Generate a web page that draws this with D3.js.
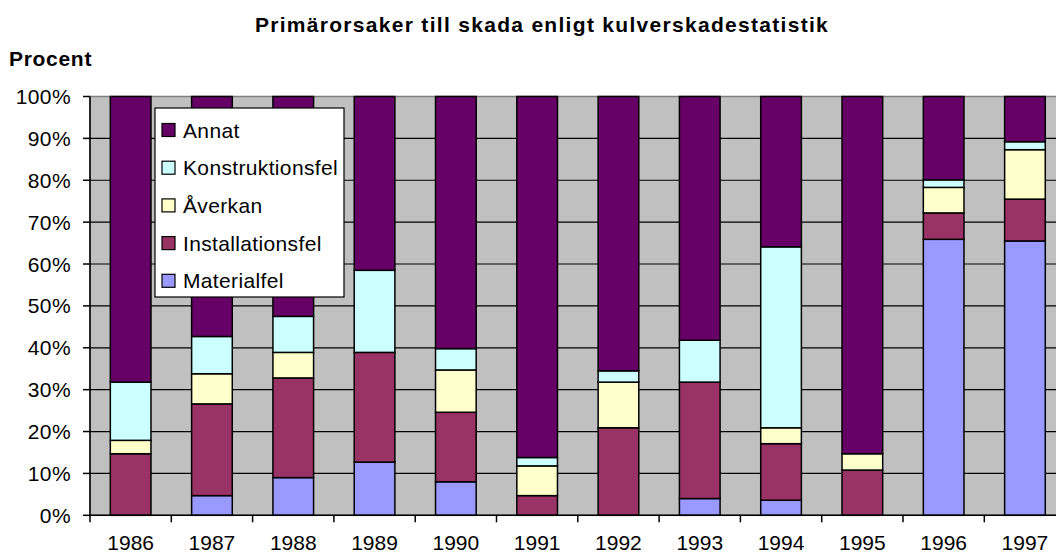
<!DOCTYPE html>
<html>
<head>
<meta charset="utf-8">
<script src="https://cdn.jsdelivr.net/npm/d3@7/dist/d3.min.js"></script>
<style>
  html, body { margin: 0; padding: 0; background: #fff; }
  svg { display: block; font-family: "Liberation Sans", Arial, sans-serif; }
</style>
</head>
<body>
<div id="chart"></div>
<script>
// DATA (percent of damages per year, bottom -> top of stack)
const years = ['1986', '1987', '1988', '1989', '1990', '1991', '1992', '1993', '1994', '1995', '1996', '1997'];
const materialfel      = [0,    4.7,  9.0,  12.7, 8.0,  0,    0,    4.0,  3.6,  0,    65.9, 65.5];
const installationsfel = [14.7, 21.9, 23.8, 26.2, 16.6, 4.7,  20.9, 27.8, 13.5, 10.8, 6.3,  10.0];
const averkan          = [3.2,  7.2,  6.1,  0,    10.1, 7.1,  10.9, 0,    3.8,  3.9,  6.1,  11.8];
const konstruktionsfel = [13.9, 8.9,  8.6,  19.6, 5.1,  2.0,  2.7,  10.0, 43.2, 0,    1.8,  1.9];
const annat            = [68.2, 57.3, 52.5, 41.5, 60.2, 86.2, 65.5, 58.2, 35.9, 85.3, 19.9, 10.8];
const yTicks = [0, 10, 20, 30, 40, 50, 60, 70, 80, 90, 100];

const seriesNames = ['Materialfel', 'Installationsfel', 'Åverkan', 'Konstruktionsfel', 'Annat'];
const seriesColors = ['#9999FF', '#993366', '#FFFFCC', '#CCFFFF', '#660066'];
const seriesValues = [materialfel, installationsfel, averkan, konstruktionsfel, annat];

const W = 1056, H = 555;
const plot = { left: 90, top: 96.5, bottom: 515.3, step: 81.3 };
plot.right = plot.left + years.length * plot.step;

const table = years.map((yr, i) => {
  const row = { year: yr };
  seriesNames.forEach((s, k) => { row[s] = seriesValues[k][i]; });
  return row;
});
const stacked = d3.stack().keys(seriesNames)(table);

const x = d3.scaleBand()
  .domain(years)
  .range([plot.left, plot.right])
  .paddingInner(0.5)
  .paddingOuter(0.25);
const y = d3.scaleLinear().domain([0, 100]).range([plot.bottom, plot.top]);

const svg = d3.select('#chart').append('svg')
  .attr('width', W)
  .attr('height', H);

// title
svg.append('text')
  .attr('x', 542).attr('y', 32)
  .attr('text-anchor', 'middle')
  .attr('font-size', 21).attr('font-weight', 'bold')
  .attr('letter-spacing', 1.3)
  .text('Primärorsaker till skada enligt kulverskadestatistik');

svg.append('text')
  .attr('x', 9).attr('y', 66)
  .attr('font-size', 21).attr('font-weight', 'bold')
  .attr('letter-spacing', 0.7)
  .text('Procent');

// plot area
svg.append('rect')
  .attr('x', plot.left).attr('y', plot.top)
  .attr('width', plot.right - plot.left).attr('height', plot.bottom - plot.top)
  .attr('fill', '#C0C0C0')
  .attr('stroke', '#808080').attr('stroke-width', 1.5);

svg.append('g')
  .selectAll('line')
  .data(yTicks.filter(t => t > 0 && t < 100))
  .join('line')
  .attr('x1', plot.left).attr('x2', plot.right)
  .attr('y1', d => y(d)).attr('y2', d => y(d))
  .attr('stroke', '#000').attr('stroke-width', 1.2);

// bars
svg.append('g')
  .selectAll('g')
  .data(stacked)
  .join('g')
  .attr('fill', (d, i) => seriesColors[i])
  .selectAll('rect')
  .data(d => d.filter(p => p[1] - p[0] > 0))
  .join('rect')
  .attr('x', d => x(d.data.year))
  .attr('width', x.bandwidth())
  .attr('y', d => y(d[1]))
  .attr('height', d => y(d[0]) - y(d[1]))
  .attr('stroke', '#000').attr('stroke-width', 1.5);

// y axis
const yAxis = svg.append('g');
yAxis.append('line')
  .attr('x1', plot.left).attr('x2', plot.left)
  .attr('y1', plot.top).attr('y2', plot.bottom)
  .attr('stroke', '#000').attr('stroke-width', 1.5);
yAxis.selectAll('line.tick')
  .data(yTicks)
  .join('line').attr('class', 'tick')
  .attr('x1', plot.left - 7).attr('x2', plot.left)
  .attr('y1', d => y(d)).attr('y2', d => y(d))
  .attr('stroke', '#000').attr('stroke-width', 1.5);
yAxis.selectAll('text')
  .data(yTicks)
  .join('text')
  .attr('x', 71).attr('y', d => y(d))
  .attr('dy', '0.36em')
  .attr('text-anchor', 'end')
  .attr('font-size', 21)
  .attr('letter-spacing', 0.4)
  .text(d => d + '%');

// x axis
const xAxis = svg.append('g');
xAxis.append('line')
  .attr('x1', plot.left).attr('x2', plot.right)
  .attr('y1', plot.bottom).attr('y2', plot.bottom)
  .attr('stroke', '#000').attr('stroke-width', 1.5);
xAxis.selectAll('line.tick')
  .data(years)
  .join('line').attr('class', 'tick')
  .attr('x1', d => x(d) - x.step() * 0.25).attr('x2', d => x(d) - x.step() * 0.25)
  .attr('y1', plot.bottom).attr('y2', plot.bottom + 7)
  .attr('stroke', '#000').attr('stroke-width', 1.5);
// last label sits at the cut-off right edge; keep it inside the picture
xAxis.selectAll('text')
  .data(years)
  .join('text')
  .attr('x', d => Math.min(x(d) + x.bandwidth() / 2, W - 25))
  .attr('y', 550)
  .attr('text-anchor', 'middle')
  .attr('font-size', 21)
  .text(d => d);

// legend
const legend = svg.append('g').attr('transform', 'translate(155,108)');
legend.append('rect')
  .attr('width', 189).attr('height', 189)
  .attr('fill', '#fff')
  .attr('stroke', '#000').attr('stroke-width', 1.2);
const legendOrder = d3.range(seriesNames.length).reverse();
const item = legend.selectAll('g.item')
  .data(legendOrder)
  .join('g').attr('class', 'item')
  .attr('transform', (d, i) => `translate(0, ${22 + i * 37.7})`);
item.append('rect')
  .attr('x', 7).attr('y', -6.5)
  .attr('width', 13).attr('height', 13)
  .attr('fill', d => seriesColors[d])
  .attr('stroke', '#000').attr('stroke-width', 1.2);
item.append('text')
  .attr('x', 28).attr('dy', '0.36em')
  .attr('font-size', 21)
  .attr('letter-spacing', 0.35)
  .text(d => seriesNames[d]);
</script>
</body>
</html>
